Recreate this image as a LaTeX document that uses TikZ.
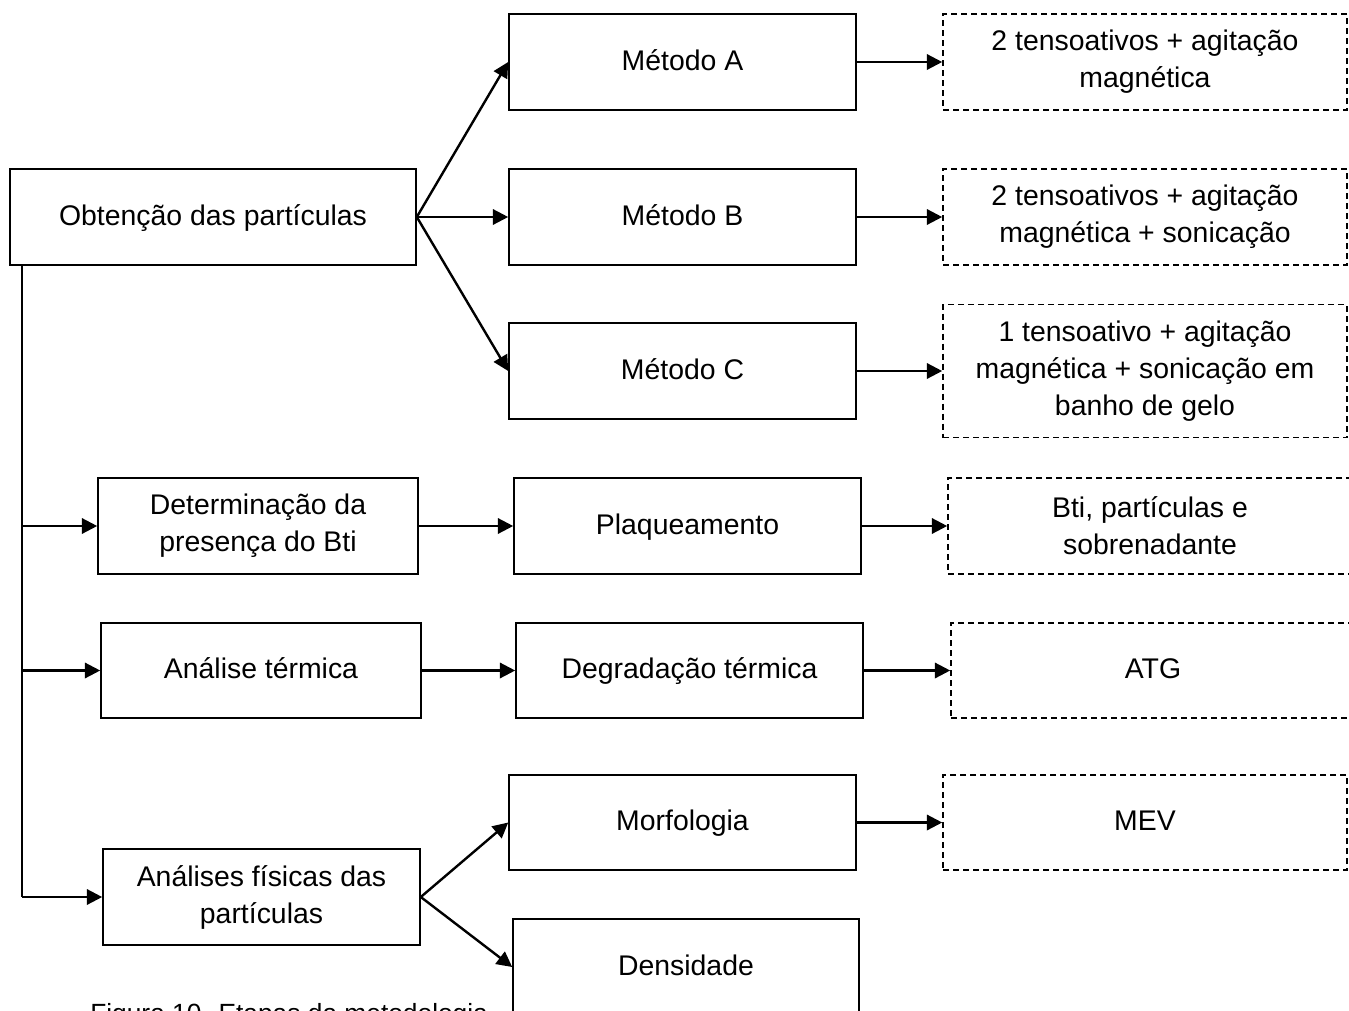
\documentclass[tikz,border=0pt]{standalone}
\usepackage{fontspec}
\setmainfont{Liberation Sans}
\usetikzlibrary{arrows.meta,positioning}
\begin{document}
\begin{tikzpicture}[x=0.75pt,y=-0.75pt,
  every node/.style={font=\fontsize{21.3}{27.75}\selectfont},
  box/.style={draw,line width=1.2pt,inner sep=0pt,align=center,minimum height=72pt},
  dbox/.style={box,dash pattern=on 4.5pt off 3pt},
  one/.style={text height=16pt,text depth=4pt},
  arr/.style={line width=1.8pt,-{Triangle[length=11.5pt,width=11.5pt]}},
]
\useasboundingbox (0,0) rectangle (1349,1010);
% left column
\node[box,one,minimum width=304.5pt] (obt) at (213,217) {Obtenção das partículas};
\node[box,minimum width=240pt] (det) at (258,526) {Determinação da\\presença do Bti};
\node[box,one,minimum width=240pt,minimum height=71.25pt] (ana) at (261,670.5) {Análise térmica};
\node[box,minimum width=237.75pt] (fis) at (261.5,897) {Análises físicas das\\partículas};
% middle column
\node[box,one,minimum width=260.25pt] (ma) at (682.5,62) {Método A};
\node[box,one,minimum width=260.25pt] (mb) at (682.5,217) {Método B};
\node[box,one,minimum width=260.25pt] (mc) at (682.5,371) {Método C};
\node[box,one,minimum width=260.25pt] (plq) at (687.5,526) {Plaqueamento};
\node[box,one,minimum width=260.25pt,minimum height=71.25pt] (deg) at (689.5,670.5) {Degradação térmica};
\node[box,one,minimum width=260.25pt,minimum height=71.25pt] (mor) at (682.5,822.5) {Morfologia};
\node[box,one,minimum width=259.5pt] (den) at (686,967) {Densidade};
% right column
\node[dbox,minimum width=303pt] (da) at (1145,62) {2 tensoativos + agitação\\magnética};
\node[dbox,minimum width=303pt] (db) at (1145,217) {2 tensoativos + agitação\\magnética + sonicação};
\node[dbox,minimum width=303pt,minimum height=99.75pt] (dc) at (1145,371) {1 tensoativo + agitação\\magnética + sonicação em\\banho de gelo};
\node[dbox,minimum width=303pt] (dbti) at (1150,526) {Bti, partículas e\\sobrenadante};
\node[dbox,one,minimum width=303pt,minimum height=71.25pt] (datg) at (1153,670.5) {ATG};
\node[dbox,one,minimum width=303pt,minimum height=71.25pt] (dmev) at (1145,822.5) {MEV};
% caption
\node[anchor=base west,inner sep=0pt,font=\fontsize{19.75}{24}\selectfont] (cap) at (90,1022) {Figura 10. Etapas da metodologia};
% connectors
\draw[arr] (obt.east) -- (ma.west);
\draw[arr] (obt.east) -- (mb.west);
\draw[arr] (obt.east) -- (mc.west);
\draw[arr] (ma.east) -- (da.west);
\draw[arr] (mb.east) -- (db.west);
\draw[arr] (mc.east) -- (dc.west);
\draw[arr] (det.east) -- (plq.west);
\draw[arr] (plq.east) -- (dbti.west);
\draw[arr] (ana.east) -- (deg.west);
\draw[arr] (deg.east) -- (datg.west);
\draw[arr] (mor.east) -- (dmev.west);
\draw[arr] (fis.east) -- (mor.west);
\draw[arr] (fis.east) -- (den.west);
\coordinate (t0) at ([xshift=9.75pt]obt.south west);
\draw[line width=1.6pt] (t0) -- (t0 |- fis.west);
\draw[arr] (t0 |- det.west) -- (det.west);
\draw[arr] (t0 |- ana.west) -- (ana.west);
\draw[arr] (t0 |- fis.west) -- (fis.west);
\end{tikzpicture}
\end{document}
